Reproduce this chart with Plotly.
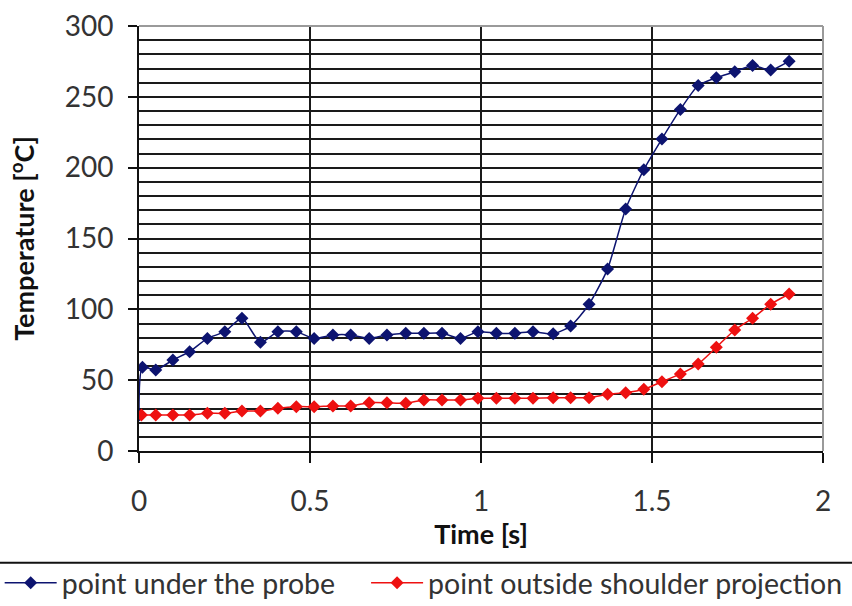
import plotly.graph_objects as go

# Data
time_probe = [0.0, 0.010, 0.049, 0.099, 0.148, 0.200, 0.251, 0.301, 0.355, 0.406, 0.460,
              0.512, 0.567, 0.619, 0.673, 0.725, 0.780, 0.833, 0.886, 0.940, 0.991,
              1.045, 1.099, 1.152, 1.211, 1.262, 1.316, 1.370, 1.423, 1.476, 1.529,
              1.583, 1.635, 1.688, 1.742, 1.794, 1.847, 1.901]
temp_probe = [25.4, 59.1, 57.2, 64.2, 70.1, 79.5, 84.2, 93.7, 76.7, 84.2, 84.2,
              79.5, 81.9, 81.9, 79.5, 81.9, 83.1, 83.1, 83.1, 79.5, 84.2,
              83.1, 83.1, 84.2, 82.7, 88.2, 103.6, 128.4, 170.8, 198.6, 220.3,
              241.1, 258.0, 263.5, 267.7, 272.2, 268.9, 275.2]

time_shoulder = [0.007, 0.049, 0.099, 0.148, 0.200, 0.251, 0.301, 0.355, 0.406, 0.460,
                 0.512, 0.567, 0.619, 0.673, 0.725, 0.780, 0.833, 0.886, 0.940, 0.991,
                 1.045, 1.099, 1.152, 1.211, 1.262, 1.316, 1.370, 1.423, 1.476, 1.529,
                 1.583, 1.635, 1.688, 1.742, 1.794, 1.847, 1.901]
temp_shoulder = [25.4, 25.4, 25.4, 25.4, 26.6, 26.6, 28.2, 28.2, 30.1, 31.3,
                 31.3, 31.8, 31.8, 34.1, 34.1, 33.7, 36.0, 36.0, 36.0, 37.2,
                 37.2, 37.2, 37.2, 37.6, 37.6, 37.6, 40.0, 41.2, 43.6, 48.9,
                 54.4, 61.4, 73.2, 85.4, 93.7, 103.6, 110.8]

series_names = ["point under the probe", "point outside shoulder projection"]
x_ticks = [0, 0.5, 1, 1.5, 2]
x_tick_text = ["0", "0.5", "1", "1.5", "2"]
y_ticks = [0, 50, 100, 150, 200, 250, 300]

BLUE = "#0d1470"
RED = "#ee1111"
FONT = "Lato"
TXT = "#333333"

fig = go.Figure()
fig.add_trace(go.Scatter(
    x=time_probe, y=temp_probe, name=series_names[0], mode="lines+markers",
    line=dict(color=BLUE, width=1.5, shape="spline", smoothing=0.6),
    marker=dict(symbol="diamond", size=10, color=BLUE),
    legend="legend",
))
fig.add_trace(go.Scatter(
    x=time_shoulder, y=temp_shoulder, name=series_names[1], mode="lines+markers",
    line=dict(color=RED, width=1.5, shape="spline", smoothing=0.6),
    marker=dict(symbol="diamond", size=10, color=RED),
    legend="legend2",
))

legend_common = dict(
    orientation="h", xanchor="left", y=-0.311, yanchor="middle",
    font=dict(family=FONT, size=28.5, color=TXT),
    bgcolor="rgba(0,0,0,0)", itemwidth=52,
)

fig.update_layout(
    width=852, height=606,
    margin=dict(l=139, r=29, t=26, b=155, autoexpand=False),
    plot_bgcolor="white", paper_bgcolor="white",
    font=dict(family=FONT, size=28, color=TXT),
    showlegend=True,
    legend=dict(x=-0.2037, **legend_common),
    legend2=dict(x=0.3320, **legend_common),
    xaxis=dict(
        range=[0, 2], tickvals=x_ticks, ticktext=x_tick_text,
        showgrid=True, gridcolor="#1a1a1a", gridwidth=2,
        zeroline=False, showline=True, linecolor="#111111", linewidth=2,
        ticks="outside", ticklen=10, tickwidth=2, tickcolor="#111111",
        ticklabelstandoff=14, automargin=False,
        tickfont=dict(family=FONT, size=28, color=TXT),
        title=dict(text="<b>Time [s]</b>", standoff=5,
                   font=dict(family=FONT, size=27, color="#111111")),
    ),
    yaxis=dict(
        range=[0, 300], tickvals=y_ticks,
        showgrid=True, gridcolor="#1a1a1a", gridwidth=2,
        minor=dict(dtick=10, showgrid=True, gridcolor="#1a1a1a", gridwidth=2),
        zeroline=False, showline=True, linecolor="#111111", linewidth=2,
        ticks="outside", ticklen=9, tickwidth=2, tickcolor="#111111",
        ticklabelstandoff=9, automargin=False,
        tickfont=dict(family=FONT, size=28, color=TXT),
        title=dict(text="<b>Temperature [<sup>o</sup>C]</b>", standoff=22,
                   font=dict(family=FONT, size=27, color="#111111")),
    ),
)

# gray frame on top and right of plot area
fig.add_shape(type="line", xref="paper", yref="paper", x0=0, x1=1, y0=1, y1=1,
              line=dict(color="#9a9a9a", width=2), layer="above")
fig.add_shape(type="line", xref="paper", yref="paper", x0=1, x1=1, y0=0, y1=1,
              line=dict(color="#9a9a9a", width=2), layer="above")
# legend box top border
fig.add_shape(type="line", xref="paper", yref="paper", x0=-0.25, x1=1.1,
              y0=-0.263, y1=-0.263, line=dict(color="#111111", width=2))

fig.write_html("out.html")
